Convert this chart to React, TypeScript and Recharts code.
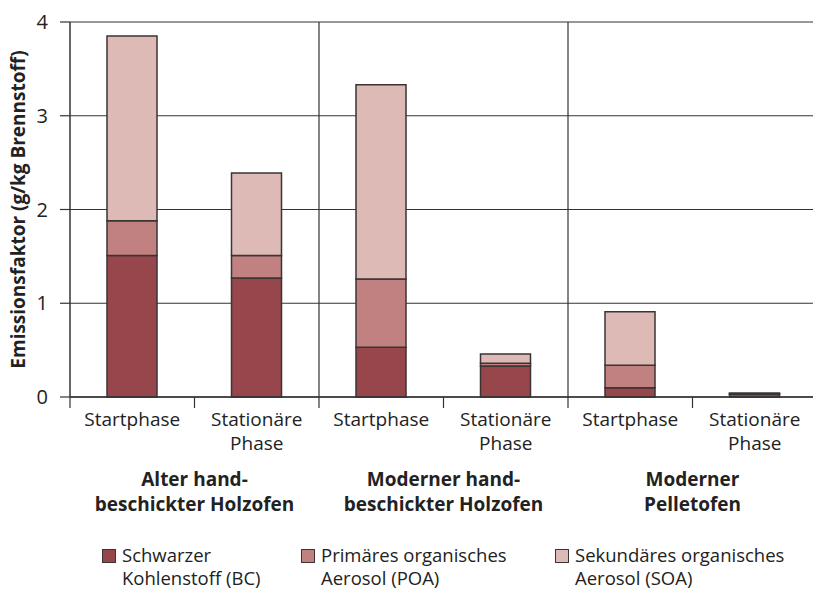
import React from "react";
import {
  BarChart,
  Bar,
  XAxis,
  YAxis,
  CartesianGrid,
  ReferenceLine,
} from "recharts";

// categories (two phases per oven type)
const categoryIds = ["alt-start", "alt-stat", "mod-start", "mod-stat", "pel-start", "pel-stat"];
const categoryLabels = [
  ["Startphase"],
  ["Stationäre", "Phase"],
  ["Startphase"],
  ["Stationäre", "Phase"],
  ["Startphase"],
  ["Stationäre", "Phase"],
];
const groupLabels = [
  ["Alter hand-", "beschickter Holzofen"],
  ["Moderner hand-", "beschickter Holzofen"],
  ["Moderner", "Pelletofen"],
];

// emission factors, g/kg fuel
const bcValues = [1.51, 1.27, 0.53, 0.33, 0.1, 0.03];
const poaValues = [0.37, 0.24, 0.73, 0.03, 0.24, 0.006];
const soaValues = [1.97, 0.88, 2.07, 0.1, 0.57, 0.006];

const yTicks = [0, 1, 2, 3, 4];

const seriesNames = [
  ["Schwarzer", "Kohlenstoff (BC)"],
  ["Primäres organisches", "Aerosol (POA)"],
  ["Sekundäres organisches", "Aerosol (SOA)"],
];
const colors = ["#97464b", "#c08180", "#ddbab5"];
const edge = "#3b3435";

const data = categoryIds.map((id, i) => ({
  id,
  bc: bcValues[i],
  poa: poaValues[i],
  soa: soaValues[i],
}));

const FONT = "'Open Sans', Lato, sans-serif";
const CHART_W = 822;
const MARGIN_RIGHT = 5;
const Y_W = 70;
const BAND = (CHART_W - MARGIN_RIGHT - Y_W) / categoryIds.length;

function CategoryTick(props: any) {
  const { x, y, payload } = props;
  const idx = categoryIds.indexOf(payload.value);
  const half = BAND / 2;
  const lines = categoryLabels[idx] || [];
  const isSecond = idx % 2 === 1;
  const group = groupLabels[Math.floor(idx / 2)];
  return (
    <g>
      <line x1={x - half} x2={x - half} y1={y} y2={y + 11} stroke="#333" strokeWidth={1.2} />
      {idx === categoryIds.length - 1 && (
        <line x1={x + half} x2={x + half} y1={y} y2={y + 11} stroke="#333" strokeWidth={1.2} />
      )}
      {lines.map((t, i) => (
        <text
          key={t}
          x={x}
          y={y + 29 + i * 24}
          textAnchor="middle"
          fontFamily={FONT}
          fontSize={19}
          fill="#222"
        >
          {t}
        </text>
      ))}
      {isSecond &&
        group.map((t, i) => (
          <text
            key={t}
            x={x - half}
            y={y + 89 + i * 25}
            textAnchor="middle"
            fontFamily={FONT}
            fontSize={19}
            fontWeight="bold"
            fill="#222"
          >
            {t}
          </text>
        ))}
    </g>
  );
}

function LegendBlock() {
  const lefts = [102, 301, 555];
  return (
    <div style={{ position: "absolute", left: 0, top: 543, width: 813, height: 50, fontFamily: FONT, fontSize: 18.5, color: "#222" }}>
      {seriesNames.map((name, i) => (
        <div key={i} style={{ position: "absolute", left: lefts[i], top: 0, display: "flex" }}>
          <div
            style={{
              width: 12,
              height: 12,
              marginTop: 6,
              marginRight: 6,
              background: colors[i],
              border: `1.5px solid ${edge}`,
            }}
          />
          <div style={{ lineHeight: "23px", whiteSpace: "nowrap" }}>
            {name[0]}
            <br />
            {name[1]}
          </div>
        </div>
      ))}
    </div>
  );
}

export default function App() {
  return (
    <div style={{ position: "absolute", left: 0, top: 0, width: 813, height: 592, overflow: "hidden", background: "#fff" }}>
      <BarChart
        width={CHART_W}
        height={592}
        data={data}
        margin={{ top: 22, right: MARGIN_RIGHT, left: 0, bottom: 0 }}
        barSize={50}
      >
        <CartesianGrid horizontal vertical={false} stroke="#333" strokeWidth={1.2} />
        <XAxis
          dataKey="id"
          height={195}
          tickSize={0}
          tickMargin={0}
          tickLine={false}
          tick={<CategoryTick />}
          interval={0}
          axisLine={{ stroke: "#333", strokeWidth: 1.5 }}
        />
        <YAxis
          width={Y_W}
          domain={[0, 4]}
          ticks={yTicks}
          tickSize={10}
          tickMargin={12}
          tickLine={{ stroke: "#333", strokeWidth: 1.2 }}
          axisLine={{ stroke: "#333", strokeWidth: 1.5 }}
          tick={{ fontFamily: FONT, fontSize: 20, fill: "#222" }}
          label={{
            value: "Emissionsfaktor (g/kg Brennstoff)",
            angle: -90,
            position: "insideLeft",
            offset: 18,
            style: { fontFamily: FONT, fontSize: 19, fontWeight: "bold", fill: "#222", textAnchor: "middle" },
          }}
        />
        <ReferenceLine x="mod-start" position="start" stroke="#333" strokeWidth={1.2} />
        <ReferenceLine x="pel-start" position="start" stroke="#333" strokeWidth={1.2} />
        <Bar dataKey="bc" stackId="a" fill={colors[0]} stroke={edge} strokeWidth={1.5} isAnimationActive={false} />
        <Bar dataKey="poa" stackId="a" fill={colors[1]} stroke={edge} strokeWidth={1.5} isAnimationActive={false} />
        <Bar dataKey="soa" stackId="a" fill={colors[2]} stroke={edge} strokeWidth={1.5} isAnimationActive={false} />
      </BarChart>
      <LegendBlock />
    </div>
  );
}
